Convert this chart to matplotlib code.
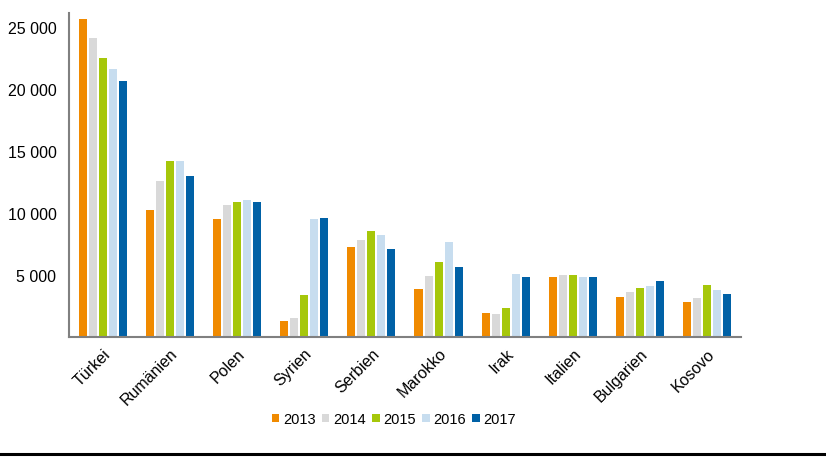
import matplotlib.pyplot as plt
import numpy as np
from matplotlib.lines import Line2D

plt.rcParams['font.family'] = ['Liberation Sans', 'DejaVu Sans']

countries = ["Türkei", "Rumänien", "Polen", "Syrien", "Serbien", "Marokko",
             "Irak", "Italien", "Bulgarien", "Kosovo"]
years = ["2013", "2014", "2015", "2016", "2017"]
v2013 = [25650, 10250, 9550, 1290, 7250, 3850, 1930, 4840, 3210, 2840]
v2014 = [24100, 12530, 10600, 1550, 7840, 4920, 1870, 5000, 3610, 3110]
v2015 = [22500, 14150, 10850, 3400, 8530, 6020, 2330, 5000, 3930, 4170]
v2016 = [21600, 14150, 11050, 9500, 8190, 7680, 5110, 4870, 4150, 3770]
v2017 = [20650, 13000, 10850, 9580, 7120, 5640, 4870, 4840, 4550, 3510]
series = [v2013, v2014, v2015, v2016, v2017]
colors = ["#F08A00", "#D9D9D9", "#A6C70A", "#C7DDEF", "#0061A6"]
yticks = [5000, 10000, 15000, 20000, 25000]
ytick_labels = ["5 000", "10 000", "15 000", "20 000", "25 000"]

fig = plt.figure(figsize=(8.26, 4.6), dpi=100)
ax = fig.add_axes([0.0835, 0.265, 0.8135, 0.7046])

x = np.arange(len(countries))
step = 0.149
bw = 0.12
for i, (vals, c, yr) in enumerate(zip(series, colors, years)):
    ax.bar(x + (i - 2) * step, vals, width=bw, color=c, label=yr, linewidth=0)

ax.set_xlim(-0.5, len(countries) - 0.5)
ax.set_ylim(0, 26100)
ax.set_yticks(yticks)
ax.set_yticklabels(ytick_labels, fontsize=11.5)
ax.set_xticks(x)
ax.set_xticklabels(countries, rotation=45, ha='right', va='top',
                   rotation_mode='anchor', fontsize=11.5)
ax.tick_params(axis='both', length=0, pad=9, colors='black')
ax.tick_params(axis='x', pad=6)
for s in ['top', 'right']:
    ax.spines[s].set_visible(False)
for s in ['left', 'bottom']:
    ax.spines[s].set_color('#808080')
    ax.spines[s].set_linewidth(1.5)

leg = fig.legend(loc='center', bbox_to_anchor=(0.477, 0.087), ncol=5,
                 frameon=False, fontsize=10.5, handlelength=0.5,
                 handleheight=0.5, handletextpad=0.25, columnspacing=0.45)

fig.add_artist(Line2D([0, 1], [0.011, 0.011], transform=fig.transFigure,
                      color='black', linewidth=2.2))

fig.savefig("out.png", dpi=100)
